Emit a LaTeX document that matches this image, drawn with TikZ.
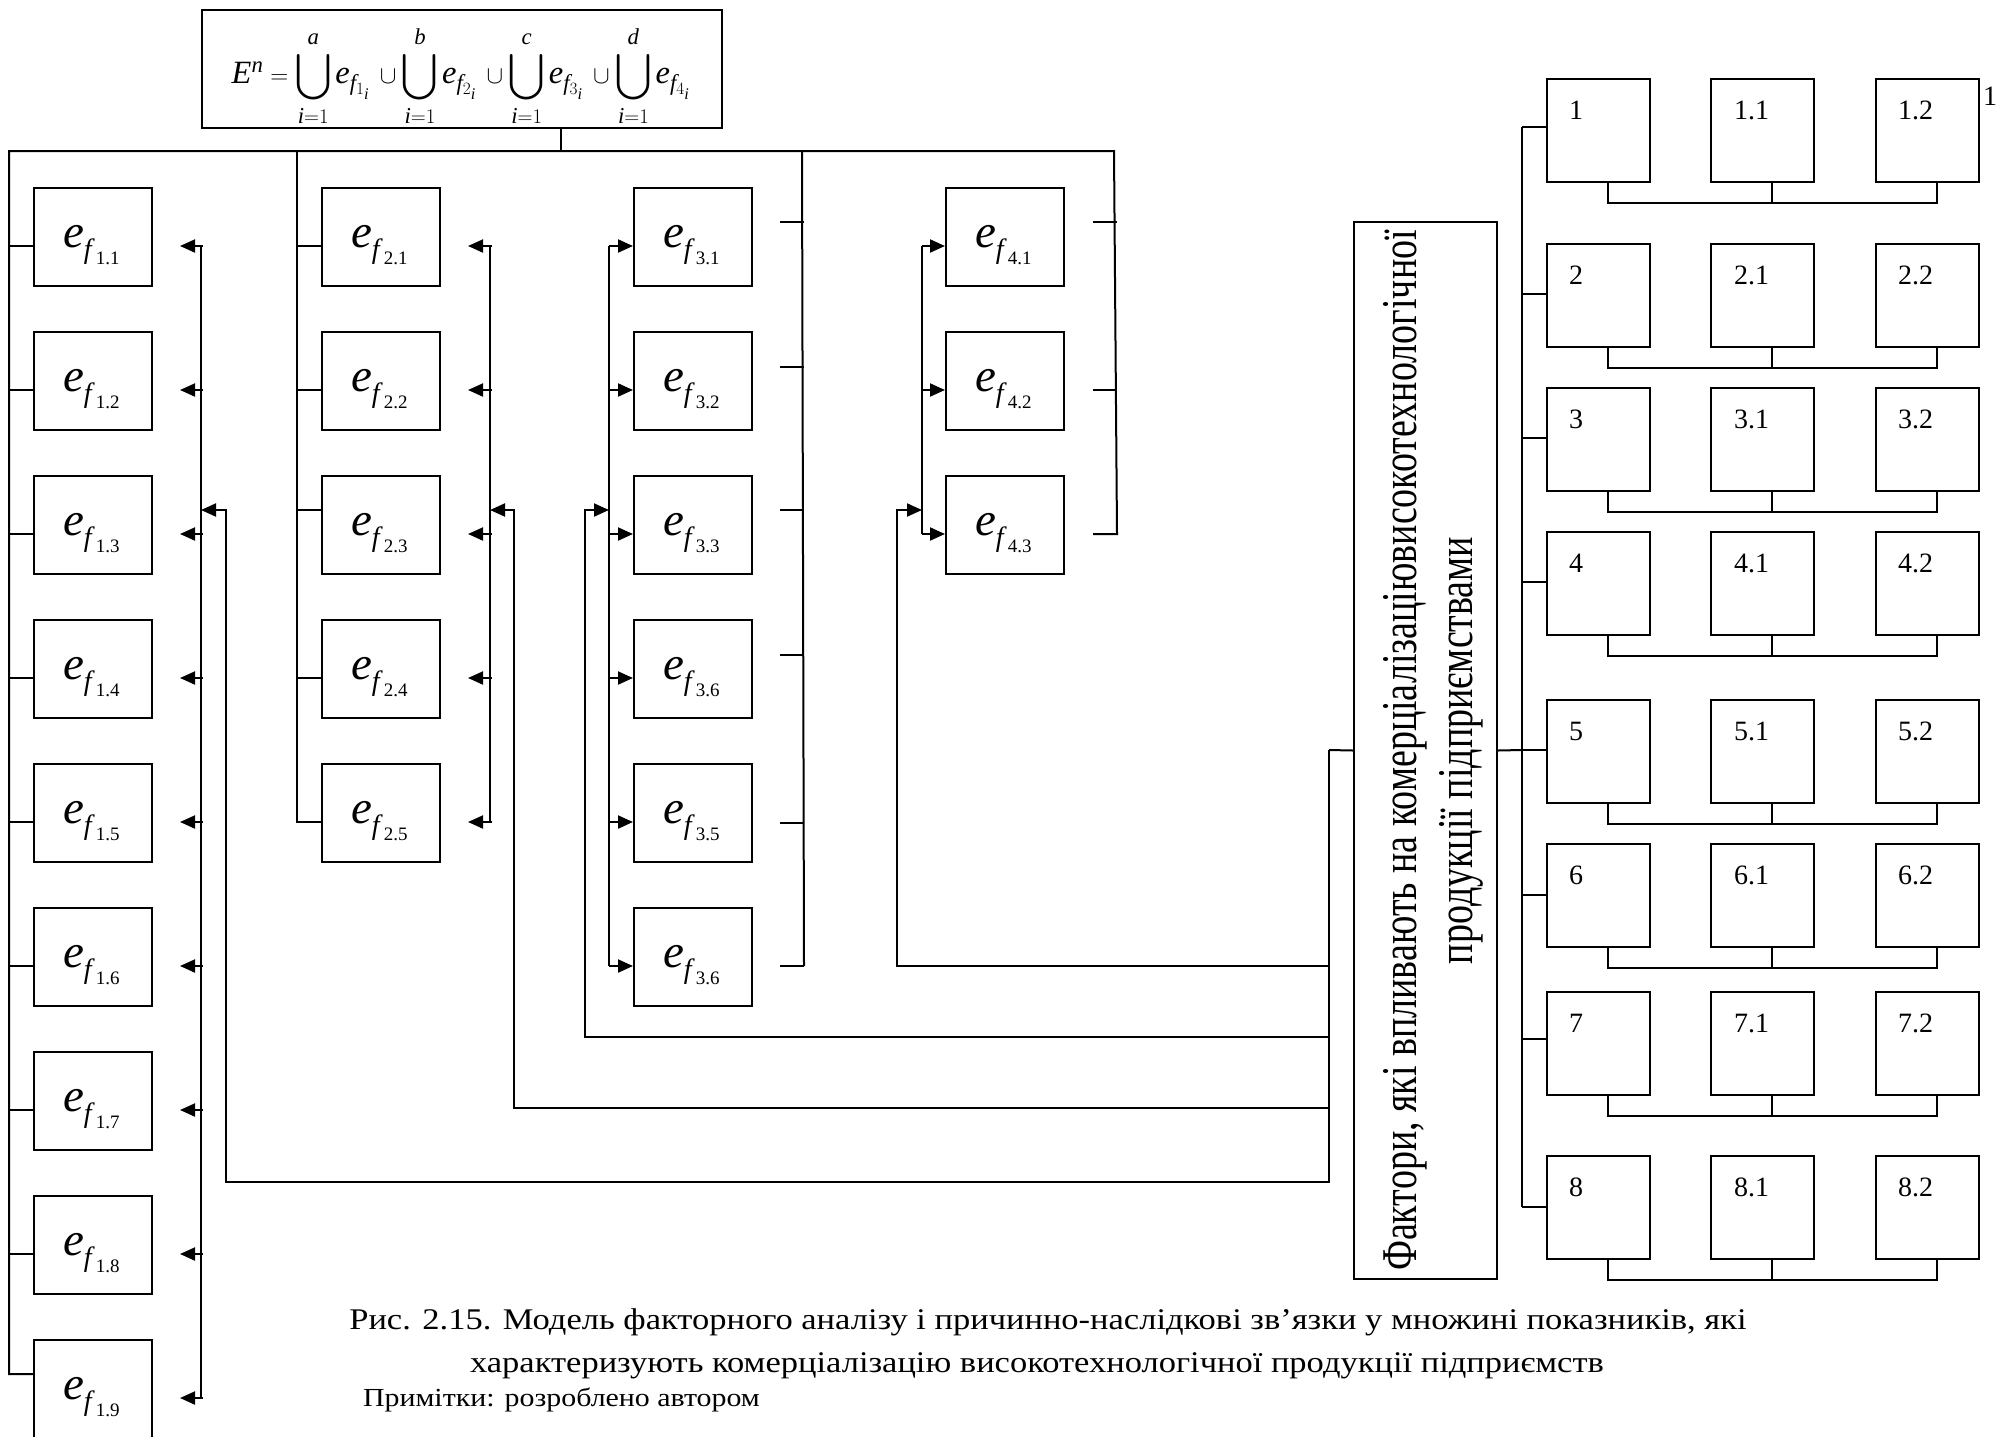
\documentclass[tikz,border=0pt]{standalone}
\usepackage{fontspec}
\setmainfont{Liberation Serif}
\newfontfamily\widefont[FakeStretch=1.15]{Liberation Serif}
\newfontfamily\narrowfont[FakeStretch=0.76]{Liberation Serif}
\DeclareFontShape{OMX}{cmex}{m}{n}{<->cmex10}{}
\usetikzlibrary{arrows.meta,calc}

% factor label e_{f_{n}}
\newcommand{\ef}[1]{\textit{e}\raisebox{-11pt}{\fontsize{28}{28}\selectfont\textit{f}\kern1pt\raisebox{-6pt}{\fontsize{19}{19}\selectfont #1}}}
% union operator with limits i=1 .. #1
\newcommand{\uni}[1]{\bigcup\limits_{\mathit{i}=1}^{\mathit{#1}}}

\begin{document}
\begin{tikzpicture}[x=1pt,y=-1pt,line width=2pt,
  fbox/.style={draw,line width=2pt,minimum width=118pt,minimum height=98pt,
    anchor=north west,inner sep=0pt},
  flab/.style={anchor=base west,inner sep=0pt,font=\fontsize{47}{47}\selectfont},
  nbox/.style={draw,line width=2pt,minimum width=103pt,minimum height=103pt,
    anchor=north west,inner sep=0pt},
  nlab/.style={anchor=base west,inner sep=0pt,font=\fontsize{28}{28}\selectfont},
  tip/.style={-{Triangle[length=15pt,width=13pt]}},
  captext/.style={inner sep=0pt,font=\fontsize{30}{30}\widefont},
  sidetext/.style={inner sep=0pt,rotate=90,anchor=base,font=\fontsize{50}{50}\narrowfont}]

\useasboundingbox (0,0) rectangle (2013,1436);

% formula
\node[draw,minimum width=520pt,minimum height=118pt,inner sep=0pt] (F) at (462,69) {};
\node[inner sep=0pt,font=\fontsize{32.5}{32.5}\selectfont] (Ftx) at (461,76)
  {$\displaystyle \mathit{E}^{\mathit{n}} = \uni{a}\mathit{e}_{\mathit{f}_{1_{\mathit{i}}}}
   \,\cup\uni{b}\mathit{e}_{\mathit{f}_{2_{\mathit{i}}}}
   \,\cup\uni{c}\mathit{e}_{\mathit{f}_{3_{\mathit{i}}}}
   \,\cup\uni{d}\mathit{e}_{\mathit{f}_{4_{\mathit{i}}}}$};

% factor boxes, four groups
\foreach \i in {1,...,9}{
  \node[fbox] (a\i) at (33,{187+144*(\i-1)}) {};
  \node[flab] (la\i) at ($(a\i.north west)+(29,60)$) {\ef{1.\i}};}
\foreach \i in {1,...,5}{
  \node[fbox] (b\i) at (321,{187+144*(\i-1)}) {};
  \node[flab] (lb\i) at ($(b\i.north west)+(29,60)$) {\ef{2.\i}};}
\foreach \i/\l in {1/3.1,2/3.2,3/3.3,4/3.6,5/3.5,6/3.6}{
  \node[fbox] (c\i) at (633,{187+144*(\i-1)}) {};
  \node[flab] (lc\i) at ($(c\i.north west)+(29,60)$) {\ef{\l}};}
\foreach \i in {1,2,3}{
  \node[fbox] (d\i) at (945,{187+144*(\i-1)}) {};
  \node[flab] (ld\i) at ($(d\i.north west)+(29,60)$) {\ef{4.\i}};}

% main bus from the formula
\coordinate (busL) at (9,151);
\coordinate (busR) at (1114,151);
\draw ($(F.south)+(99,0)$) -- ++(0,23);
\draw ($(a9.north west)+(0,35)$) -- ++(-24,0) |- (busR) -- ($(d3.north east)+(52,59)$) -- ++(-24,0);
\draw ($(b5.north west)+(0,59)$) -- ++(-24,0) -- (297,151);
\draw ($(c6.north east)+(51,59)$) -- ++(-24,0);
\draw ($(c6.north east)+(51,59)$) -- (802,151);
\foreach \i in {1,...,8}
  \draw ($(a\i.north west)+(0,59)$) -- ++(-24,0);
\foreach \i/\dy in {1/59,2/59,3/35,4/59}
  \draw ($(b\i.north west)+(0,\dy)$) -- ++(-24,0);
\foreach \i/\dy in {1/35,2/36,3/35,4/36,5/60}
  \draw ($(c\i.north east)+(27,\dy)$) -- ++(24,0);
\foreach \i/\dy in {1/35,2/59}
  \draw ($(d\i.north east)+(28,\dy)$) -- ++(24,0);

% arrow columns
\draw (201,246) -- (201,1398);
\foreach \i in {1,...,9}
  \draw[tip] ($(a\i.north east)+(50,59)$) -- ++(-23,0);
\draw (490,246) -- (490,823);
\foreach \i in {1,...,5}
  \draw[tip] ($(b\i.north east)+(51,59)$) -- ++(-24,0);
\draw (609,246) -- (609,966);
\foreach \i in {1,...,6}
  \draw[tip] ($(c\i.north west)+(-24,59)$) -- ($(c\i.north west)+(0,59)$);
\draw (922,246) -- (922,534);
\foreach \i in {1,2,3}
  \draw[tip] ($(d\i.north west)+(-23,59)$) -- ($(d\i.north west)+(0,59)$);

% factors box
\node[draw,minimum width=143pt,minimum height=1057pt,inner sep=0pt] (K) at (1425.5,750.5) {};
\node[sidetext] (K1) at (1416,750.5)
  {Фактори, які впливають на комерціалізаціювисокотехнологічної};
\node[sidetext] (K2) at (1472,750.5)
  {продукції підприємствами};

% feedback lines
\coordinate (fb) at (1329,750);
\draw (K.west) -- (fb);
\draw[tip] (fb) |- (226,1182) |- (201,510);
\draw[tip] (fb) |- (514,1108) |- (490,510);
\draw[tip] (fb) |- (585,1037) |- (609,510);
\draw[tip] (fb) |- (897,966) |- (922,510);

% numbered boxes
\foreach \r/\t/\s in {1/78/49,2/243/51,3/387/51,4/531/51,5/699/51,6/843/52,7/991/48,8/1155/52}{
  \node[nbox] (r\r) at (1546,\t) {};
  \node[nbox] (r\r a) at (1710,\t) {};
  \node[nbox] (r\r b) at (1875,\t) {};
  \node[nlab] at ($(r\r.north west)+(22,41)$) {\r};
  \node[nlab] at ($(r\r a.north west)+(23,41)$) {\r.1};
  \node[nlab] at ($(r\r b.north west)+(22,41)$) {\r.2};
  \draw ($(r\r.south west)+(62,0)$) -- ++(0,20) -| ($(r\r b.south west)+(62,0)$);
  \draw ($(r\r a.south west)+(62,0)$) -- ++(0,20);
  \draw ($(r\r.north west)+(0,\s)$) -- ++(-24,0);
}
\draw (1522,127) -- (1522,1207);
\draw (K.east) -- (1522,750);
\node[nlab] (extra) at (1982,105) {1};

% caption
\node[captext,anchor=base] (cap1) at (1048,1329)
  {Рис. 2.15. Модель факторного аналізу і причинно-наслідкові зв’язки у множині показників, які};
\node[captext,anchor=base] (cap2) at (1037,1372)
  {характеризують комерціалізацію високотехнологічної продукції підприємств};
\node[captext,anchor=base west,font=\fontsize{26}{26}\widefont] (cap3) at (362,1406)
  {Примітки: розроблено автором};
\end{tikzpicture}
\end{document}
